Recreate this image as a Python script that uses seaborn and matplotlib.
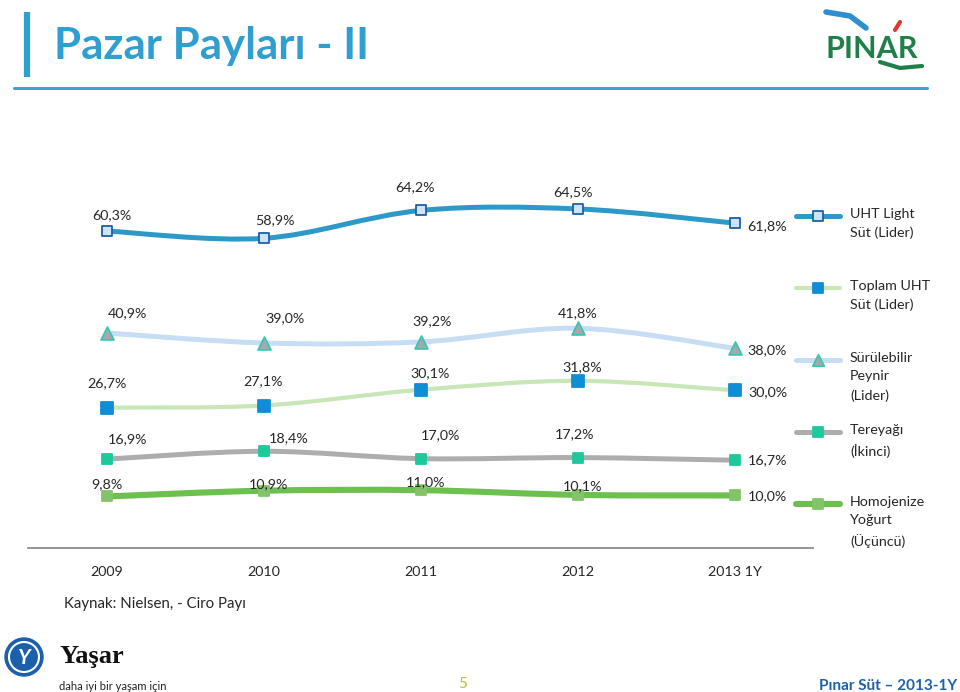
import numpy as np
import pandas as pd
import seaborn as sns
import matplotlib.pyplot as plt
from matplotlib.path import Path
from matplotlib.patches import PathPatch, Circle

years = ['2009', '2010', '2011', '2012', '2013 1Y']
uht_light = [60.3, 58.9, 64.2, 64.5, 61.8]
toplam_uht = [26.7, 27.1, 30.1, 31.8, 30.0]
surulebilir = [40.9, 39.0, 39.2, 41.8, 38.0]
tereyagi = [16.9, 18.4, 17.0, 17.2, 16.7]
yogurt = [9.8, 10.9, 11.0, 10.1, 10.0]
series_names = ['UHT Light\nSüt (Lider)', 'Toplam UHT\nSüt (Lider)',
                'Sürülebilir\nPeynir\n(Lider)', 'Tereyağı\n(İkinci)',
                'Homojenize\nYoğurt\n(Üçüncü)']

sns.set_style('white')
plt.rcParams['font.family'] = ['Lato', 'DejaVu Sans']

# style per series: line colour, line width, marker, face, edge, size
styles = [
    ('#2E98C8', 3.6, 's', '#CFE3F5', '#1E5FA6', 60),
    ('#C8E6B8', 3.0, 's', '#0F8ED6', '#0F8ED6', 75),
    ('#C7DDF4', 3.6, '^', '#A3A9AE', '#3CC4B0', 85),
    ('#ADADAD', 3.6, 's', '#1CC99A', '#1CC99A', 60),
    ('#6DBF4F', 4.4, 's', '#82C467', '#82C467', 60),
]
# label offsets in pixels (dx, dy)
offsets = [
    [(5, 16), (11, 18), (-5, 23), (-5, 17), (33, -3)],
    [(0, 24), (0, 24), (10, 17), (5, 14), (33, -2)],
    [(21, 20), (22, 25), (12, 21), (0, 15), (33, -2)],
    [(21, 20), (25, 13), (20, 23), (-3, 23), (33, 0)],
    [(0, 12), (5, 7), (5, 8), (5, 9), (33, -1)],
]


def smooth_path(xs, ys):
    pts = np.column_stack([xs, ys]).astype(float)
    n = len(pts)
    verts, codes = [pts[0]], [Path.MOVETO]
    for i in range(n - 1):
        p0, p1 = pts[max(i - 1, 0)], pts[i]
        p2, p3 = pts[i + 1], pts[min(i + 2, n - 1)]
        verts += [p1 + (p2 - p0) / 6, p2 - (p3 - p1) / 6, p2]
        codes += [Path.CURVE4] * 3
    return Path(verts, codes)


fig = plt.figure(figsize=(9.6, 6.92), dpi=100)
ax = fig.add_axes([28 / 960, 144 / 692, 785 / 960, 368 / 692])
x = np.arange(len(years))
df = pd.DataFrame({'year': x})
all_series = [uht_light, toplam_uht, surulebilir, tereyagi, yogurt]

for k, (vals, st) in enumerate(zip(all_series, styles)):
    lc, lw, mk, fc, ec, ms = st
    ax.add_patch(PathPatch(smooth_path(x, vals), fill=False, edgecolor=lc, lw=lw,
                           capstyle='round', joinstyle='round', zorder=2 + k))
    df['v'] = vals
    sns.scatterplot(data=df, x='year', y='v', marker=mk, color=fc, edgecolor=ec,
                    linewidth=1.3, s=ms, ax=ax, zorder=3 + k, legend=False)
    for i, v in enumerate(vals):
        dx, dy = offsets[k][i]
        ax.annotate(f'{v:.1f}%'.replace('.', ','), (x[i], v), xytext=(dx, dy),
                    textcoords='offset pixels', ha='center', va='center',
                    fontsize=10.3, color='#262626', zorder=20)

ax.set_xlim(-0.5, len(years) - 0.5)
ax.set_ylim(0, 70)
ax.set_xticks(x)
ax.set_xticklabels(years, fontsize=10.3, color='#262626')
ax.set_xticks(np.arange(-0.5, len(years)), minor=True)
ax.tick_params(axis='x', which='major', length=0, pad=13)
ax.tick_params(axis='x', which='minor', length=5, color='#8C8C8C', width=1.2, direction='out')
ax.set_yticks([])
ax.set_xlabel('')
ax.set_ylabel('')
for s in ['top', 'right', 'left']:
    ax.spines[s].set_visible(False)
ax.spines['bottom'].set_color('#8C8C8C')
ax.spines['bottom'].set_linewidth(1.3)
ax.patch.set_alpha(0)

# slide decorations in pixel coordinates
deco = fig.add_axes([0, 0, 1, 1], zorder=-1)
deco.set_xlim(0, 960)
deco.set_ylim(692, 0)
deco.axis('off')

deco.plot([27, 27], [12, 77], color='#2E9FD0', lw=4.5, solid_capstyle='butt')
deco.plot([14, 927], [88, 88], color='#3AA3D6', lw=2.2)
deco.text(54, 46, 'Pazar Payları - II', fontsize=31.5, fontweight='bold',
          color='#2E9FD0', va='center', ha='left')

# Pinar logo
deco.plot([826, 850, 866], [12, 16, 28], color='#2E8FD0', lw=4, solid_capstyle='round')
deco.plot([895, 900], [30, 22], color='#E03A2E', lw=3)
deco.text(872, 49, 'PINAR', fontsize=22, fontweight='bold', color='#1E8048',
          ha='center', va='center')
deco.plot([880, 900, 922], [62, 68, 66], color='#1E8048', lw=3)

# legend
for k, (name, st) in enumerate(zip(series_names, styles)):
    lc, lw, mk, fc, ec, ms = st
    y = 216 + 72 * k
    deco.plot([796, 840], [y, y], color=lc, lw=lw, solid_capstyle='round')
    deco.scatter([818], [y], marker=mk, s=ms * 0.8, color=fc, edgecolor=ec,
                 linewidth=1.3, zorder=5)
    deco.text(850, y - 8, name, fontsize=10.3, color='#262626', ha='left', va='top',
              linespacing=1.65)

deco.text(64, 604, 'Kaynak: Nielsen, - Ciro Payı', fontsize=10.8, color='#262626',
          ha='left', va='center')

# footer
deco.add_patch(Circle((24, 657), 19, facecolor='#1C5FAA', edgecolor='#1C5FAA', lw=1))
deco.add_patch(Circle((24, 657), 15, facecolor='none', edgecolor='white', lw=1.5))
deco.text(24, 658, 'Y', fontsize=15, fontweight='bold', color='white',
          ha='center', va='center', style='italic')
deco.text(59, 657, 'Yaşar', fontsize=19, fontweight='bold', color='#111111',
          ha='left', va='center', family=['Liberation Serif', 'DejaVu Serif'])
deco.text(59, 686, 'daha iyi bir yaşam için', fontsize=8, color='#222222',
          ha='left', va='center')
deco.text(463, 684, '5', fontsize=11, color='#B8BF3A', ha='center', va='center')
deco.text(957, 686, 'Pınar Süt – 2013-1Y', fontsize=11, fontweight='bold',
          color='#1F5FA8', ha='right', va='center')

fig.savefig('out.png', dpi=100)
